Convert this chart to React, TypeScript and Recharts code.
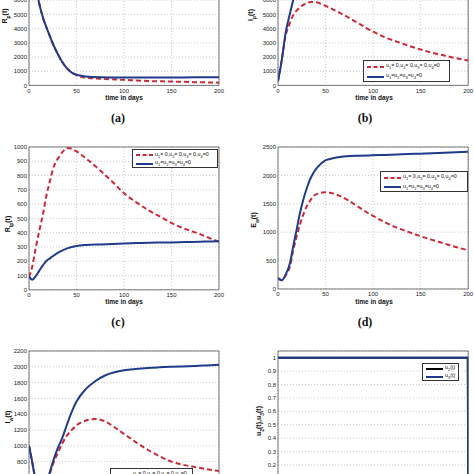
import { LineChart, Line, XAxis, YAxis, CartesianGrid, ReferenceArea } from "recharts";

const RED = "#cc2936";
const BLUE = "#1f3c8c";

// (a) R_p(t)
const tA = [0, 5, 10, 15, 20, 25, 30, 35, 40, 45, 50, 55, 60, 75, 100, 125, 150, 175, 200];
const aRed = [12000, 8000, 6000, 4700, 3800, 2950, 2250, 1650, 1200, 900, 730, 600, 540, 470, 390, 310, 270, 230, 190];
const aBlue = [12000, 8000, 6000, 4700, 3800, 2950, 2250, 1650, 1200, 900, 750, 680, 630, 580, 560, 560, 560, 565, 570];

// (b) I_p(t)
const tB = [0, 4, 8, 12, 16, 20, 25, 30, 35, 40, 50, 60, 70, 80, 90, 100, 112, 125, 137, 150, 162, 175, 187, 200];
const bRed = [300, 1800, 3500, 4300, 4950, 5300, 5600, 5800, 5870, 5850, 5600, 5280, 4930, 4550, 4160, 3780, 3400, 3080, 2800, 2530, 2300, 2100, 1920, 1750];
const bBlue = [300, 1800, 3700, 4900, 6000, 6900, 7800, 8500, 9000, 9300, 9700, 9900, 10000, 10050, 10080, 10100, 10120, 10150, 10170, 10200, 10220, 10250, 10270, 10300];

// (c) R_lp(t)
const tC = [0, 3.5, 7, 11, 15, 18, 22, 25, 32, 41, 50, 60, 75, 88, 100, 113, 127, 140, 150, 165, 180, 190, 200];
const cRed = [90, 165, 290, 418, 540, 650, 760, 840, 934, 993, 969, 920, 835, 755, 676, 612, 552, 505, 468, 425, 390, 362, 336];
const cBlue = [94, 70, 95, 136, 175, 200, 220, 235, 265, 292, 307, 314, 318, 321, 324, 327, 330, 331, 332, 334, 337, 338, 340];

// (d) E_w(t)
const tD = [0, 4, 8, 12.6, 16, 19.6, 23, 26.6, 30, 33.6, 37, 42.4, 49.4, 54.6, 61.6, 72, 85, 98.4, 112, 125, 137, 149, 162, 175, 187, 200];
const dRed = [194, 153, 240, 400, 680, 927, 1130, 1309, 1450, 1550, 1631, 1680, 1702, 1695, 1661, 1580, 1440, 1300, 1180, 1080, 1005, 935, 865, 800, 740, 681];
const dBlue = [194, 153, 250, 458, 750, 1045, 1330, 1573, 1760, 1925, 2040, 2160, 2260, 2289, 2315, 2338, 2347, 2353, 2360, 2368, 2375, 2383, 2391, 2400, 2409, 2418];

// (e) I_w(t)
const tE = [0, 3, 6, 9, 12, 15, 18, 21, 25, 30, 35, 40, 45, 50, 60, 70, 80, 90, 100, 112, 125, 137, 150, 162, 175, 187, 200];
const eRed = [1000, 820, 620, 470, 400, 420, 500, 610, 760, 900, 1030, 1130, 1200, 1260, 1320, 1340, 1310, 1235, 1150, 1050, 950, 870, 800, 760, 730, 705, 680];
const eBlue = [1000, 820, 620, 480, 420, 440, 520, 630, 790, 960, 1100, 1270, 1430, 1560, 1720, 1820, 1890, 1930, 1955, 1972, 1985, 1993, 2000, 2005, 2010, 2017, 2025];

// (f) controls
const tF = [0, 199.6, 200];
const u2 = [1, 1, 0];
const u3 = [1, 1, 0];

const dayTicks = [0, 50, 100, 150, 200];

const pts = (ts: number[], vs: number[]) => ts.map((t, i) => ({ t, v: vs[i] }));

type Series = { data: { t: number; v: number }[]; color: string; dashed?: boolean; linear?: boolean };

function Panel({ left, top, right, bottom, yDomain, yTicks, series, hideX }: {
  left: number; top: number; right: number; bottom: number;
  yDomain: [number, number]; yTicks: number[]; series: Series[]; hideX?: boolean;
}) {
  const yw = 30, xh = 12, pr = 6, pt = 6;
  const cl = left - yw;
  const w = right - cl + pr;
  const h = bottom - top + xh + pt;
  return (
    <div style={{ position: "absolute", left: cl, top: top - pt }}>
      <LineChart width={w} height={h} margin={{ top: pt, right: pr, bottom: 0, left: 0 }}>
        <CartesianGrid stroke="#b5b5b5" strokeDasharray="1 2" strokeWidth={0.7} />
        <XAxis type="number" dataKey="t" domain={[0, 200]} ticks={dayTicks} height={xh} axisLine={false} tickLine={false}
          tickSize={0} tickMargin={3} tick={hideX ? false : { fontSize: 6, fill: "#222" }} allowDataOverflow />
        <YAxis type="number" dataKey="v" domain={yDomain} ticks={yTicks} width={yw} axisLine={false} tickLine={false}
          tickSize={0} tickMargin={2} tick={{ fontSize: 6, fill: "#222" }} allowDataOverflow interval={0} />
        <ReferenceArea x1={0} x2={200} y1={yDomain[0]} y2={yDomain[1]} fill="none" stroke="#555" strokeWidth={0.8} ifOverflow="visible" />
        {series.map((s, i) => (
          <Line key={i} data={s.data} dataKey="v" type={s.linear ? "linear" : "monotone"} stroke={s.color} strokeWidth={2}
            strokeDasharray={s.dashed ? "5 3" : undefined} dot={false} activeDot={false} isAnimationActive={false} />
        ))}
      </LineChart>
    </div>
  );
}

const abs = (x: number, y: number): React.CSSProperties => ({
  position: "absolute", left: x, top: y, transform: "translate(-50%,-50%)", whiteSpace: "nowrap",
});

function YTitle({ x, y, main, sub }: { x: number; y: number; main: string; sub: string }) {
  return (
    <div style={{ ...abs(x, y), transform: "translate(-50%,-50%) rotate(-90deg)", fontSize: 7, fontWeight: "bold" }}>
      {main}<sub style={{ fontSize: 5 }}>{sub}</sub>(t)
    </div>
  );
}

function XTitle({ x, y }: { x: number; y: number }) {
  return <div style={{ ...abs(x, y), fontSize: 6.5, fontWeight: "bold" }}>time in days</div>;
}

function Caption({ x, y, text }: { x: number; y: number; text: string }) {
  return <div style={{ ...abs(x, y), fontSize: 12, fontWeight: "bold", fontFamily: "'Liberation Serif', 'Times New Roman', serif" }}>{text}</div>;
}

const s5: React.CSSProperties = { fontSize: 4 };

function Sample({ color, dashed }: { color: string; dashed?: boolean }) {
  return (
    <svg width={17} height={4} style={{ marginLeft: 3, marginRight: 2, flex: "none" }}>
      <line x1={0} y1={2} x2={17} y2={2} stroke={color} strokeWidth={2} strokeDasharray={dashed ? "4 2.5" : undefined} />
    </svg>
  );
}

function CtrlLegend({ x, y, w, h }: { x: number; y: number; w: number; h: number }) {
  const row: React.CSSProperties = { display: "flex", alignItems: "center", height: h / 2 - 1, fontSize: 5.3, lineHeight: 1 };
  return (
    <div style={{ position: "absolute", left: x, top: y, width: w, height: h, border: "1px solid #333", background: "#fff", boxSizing: "border-box", paddingTop: 1 }}>
      <div style={row}>
        <Sample color={RED} dashed />
        <span>u<sub style={s5}>1</sub>= 0,u<sub style={s5}>2</sub>= 0,u<sub style={s5}>3</sub>= 0,u<sub style={s5}>4</sub>=0</span>
      </div>
      <div style={row}>
        <Sample color={BLUE} />
        <span>u<sub style={s5}>1</sub>=u<sub style={s5}>2</sub>=u<sub style={s5}>3</sub>=u<sub style={s5}>4</sub>=0</span>
      </div>
    </div>
  );
}

export default function App() {
  const kTicks = [0, 1000, 2000, 3000, 4000, 5000, 6000];
  return (
    <div style={{ position: "absolute", left: 0, top: 0, width: 474, height: 474, overflow: "hidden", background: "#fff", fontFamily: "'Liberation Sans', Arial, sans-serif", color: "#111" }}>
      <Panel left={29} right={219} top={-14.4} bottom={85} yDomain={[0, 7000]} yTicks={kTicks}
        series={[{ data: pts(tA, aRed), color: RED, dashed: true }, { data: pts(tA, aBlue), color: BLUE }]} />
      <Panel left={278.3} right={468.5} top={-14.4} bottom={85} yDomain={[0, 7000]} yTicks={kTicks}
        series={[{ data: pts(tB, bRed), color: RED, dashed: true }, { data: pts(tB, bBlue), color: BLUE }]} />
      <Panel left={29} right={219} top={146.5} bottom={289.3} yDomain={[0, 1000]} yTicks={[0, 100, 200, 300, 400, 500, 600, 700, 800, 900, 1000]}
        series={[{ data: pts(tC, cRed), color: RED, dashed: true }, { data: pts(tC, cBlue), color: BLUE }]} />
      <Panel left={278.3} right={468.5} top={147.3} bottom={289.3} yDomain={[0, 2500]} yTicks={[0, 500, 1000, 1500, 2000, 2500]}
        series={[{ data: pts(tD, dRed), color: RED, dashed: true }, { data: pts(tD, dBlue), color: BLUE }]} />
      <Panel left={29} right={219} top={350.8} bottom={524.6} yDomain={[0, 2200]} yTicks={[800, 1000, 1200, 1400, 1600, 1800, 2000, 2200]} hideX
        series={[{ data: pts(tE, eRed), color: RED, dashed: true }, { data: pts(tE, eBlue), color: BLUE }]} />
      <Panel left={278.3} right={468.5} top={351} bottom={491.7} yDomain={[0, 1.05]} yTicks={[0.2, 0.3, 0.4, 0.5, 0.6, 0.7, 0.8, 0.9, 1]} hideX
        series={[{ data: pts(tF, u2), color: "#000", linear: true }, { data: pts(tF, u3), color: BLUE, linear: true }]} />

      <YTitle x={6} y={16} main="R" sub="p" />
      <YTitle x={252} y={15} main="I" sub="p" />
      <YTitle x={9} y={224} main="R" sub="lp" />
      <YTitle x={255} y={220} main="E" sub="w" />
      <YTitle x={9} y={417} main="I" sub="w" />
      <div style={{ ...abs(260, 421), transform: "translate(-50%,-50%) rotate(-90deg)", fontSize: 7, fontWeight: "bold" }}>
        u<sub style={{ fontSize: 5 }}>2</sub>(t),u<sub style={{ fontSize: 5 }}>3</sub>(t)
      </div>

      <XTitle x={124} y={97} />
      <XTitle x={374} y={97} />
      <XTitle x={124} y={301} />
      <XTitle x={374} y={301} />

      <Caption x={118} y={118} text="(a)" />
      <Caption x={365} y={118} text="(b)" />
      <Caption x={118} y={322} text="(c)" />
      <Caption x={365} y={322} text="(d)" />

      <CtrlLegend x={363} y={60} w={87} h={22} />
      <CtrlLegend x={132} y={149} w={86} h={19} />
      <CtrlLegend x={380} y={171} w={88} h={21} />
      <CtrlLegend x={110} y={468} w={83} h={21} />

      <div style={{ position: "absolute", left: 422, top: 363, width: 37, height: 18, border: "1px solid #333", background: "#fff", boxSizing: "border-box", fontSize: 5.3 }}>
        <div style={{ display: "flex", alignItems: "center", height: 8, marginTop: 0.5 }}>
          <Sample color="#000" /><span>u<sub style={s5}>2</sub>(t)</span>
        </div>
        <div style={{ display: "flex", alignItems: "center", height: 8 }}>
          <Sample color={BLUE} /><span>u<sub style={s5}>3</sub>(t)</span>
        </div>
      </div>
    </div>
  );
}
